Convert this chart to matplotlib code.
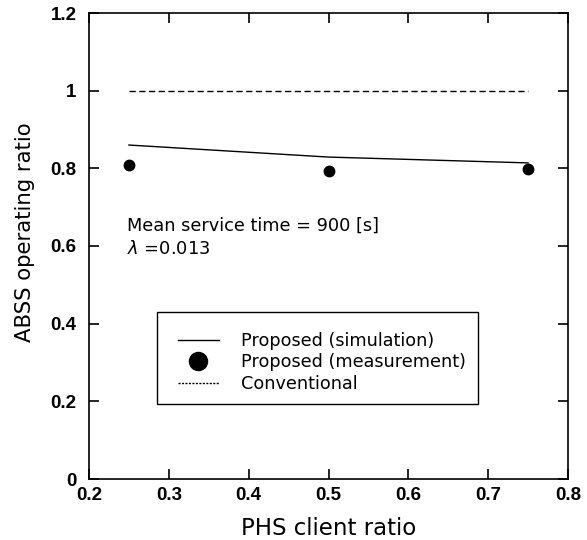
import matplotlib
matplotlib.use("Agg")
import matplotlib.pyplot as plt
from matplotlib.lines import Line2D
from matplotlib.patches import Rectangle

plt.rcParams['font.family'] = ['DejaVu Sans']
plt.rcParams['mathtext.fontset'] = 'dejavusans'

client_ratio = [0.25, 0.5, 0.75]
sim_ratio = [0.860, 0.829, 0.814]
meas_ratio = [0.809, 0.793, 0.798]
conv_ratio = [1.0, 1.0, 1.0]

xticks = [0.2, 0.3, 0.4, 0.5, 0.6, 0.7, 0.8]
yticks = [0, 0.2, 0.4, 0.6, 0.8, 1.0, 1.2]
ytick_labels = ['0', '0.2', '0.4', '0.6', '0.8', '1', '1.2']
legend_labels = ['Proposed (simulation)', 'Proposed (measurement)', 'Conventional']

fig = plt.figure(figsize=(5.87, 5.40), dpi=100)
ax = fig.add_axes([89 / 587, 61 / 540, 479 / 587, 466 / 540])

ax.plot(client_ratio, sim_ratio, color='black', lw=1.0)
ax.plot(client_ratio, meas_ratio, 'o', color='black', ms=7.5)
ax.plot(client_ratio, conv_ratio, color='black', lw=1.0, ls=(0, (4.5, 2.5)))

ax.set_xlim(0.2, 0.8)
ax.set_ylim(0, 1.2)
ax.set_xticks(xticks)
ax.set_xticklabels([str(t) for t in xticks], fontweight='bold',
                   family='Liberation Sans')
ax.set_yticks(yticks)
ax.set_yticklabels(ytick_labels, fontweight='bold', family='Liberation Sans')
ax.tick_params(direction='in', top=True, right=True, length=7, width=1.2,
               labelsize=13.5)
ax.tick_params(axis='x', pad=6)
ax.tick_params(axis='y', pad=9)
for sp in ax.spines.values():
    sp.set_linewidth(1.2)

ax.set_xlabel('PHS client ratio', fontsize=16.5, labelpad=9)
ax.set_ylabel('ABSS operating ratio', fontsize=15.3)
ax.yaxis.set_label_coords(-0.113, 0.53)

ax.text(0.248, 0.652, 'Mean service time = 900 [s]', fontsize=12.8, va='center')
ax.text(0.248, 0.592, r'$\lambda$' + ' =0.013', fontsize=12.8, va='center')

# legend box drawn separately so the empty strip at its top matches
ax.add_patch(Rectangle((0.142, 0.161), 0.670, 0.197, transform=ax.transAxes,
                       fill=False, ec='black', lw=1.0, zorder=5))
handles = [Line2D([], [], color='black', lw=1.0),
           Line2D([], [], ls='', marker='o', color='black', ms=13),
           Line2D([], [], color='black', lw=1.0, ls=(0, (1.5, 1)))]
leg = ax.legend(handles, legend_labels, loc='upper left',
                bbox_to_anchor=(0.186, 0.316), fontsize=12.7, frameon=False,
                handlelength=2.3, labelspacing=0.2, borderpad=0,
                handletextpad=1.25, borderaxespad=0)

fig.savefig('out.png', dpi=100)
